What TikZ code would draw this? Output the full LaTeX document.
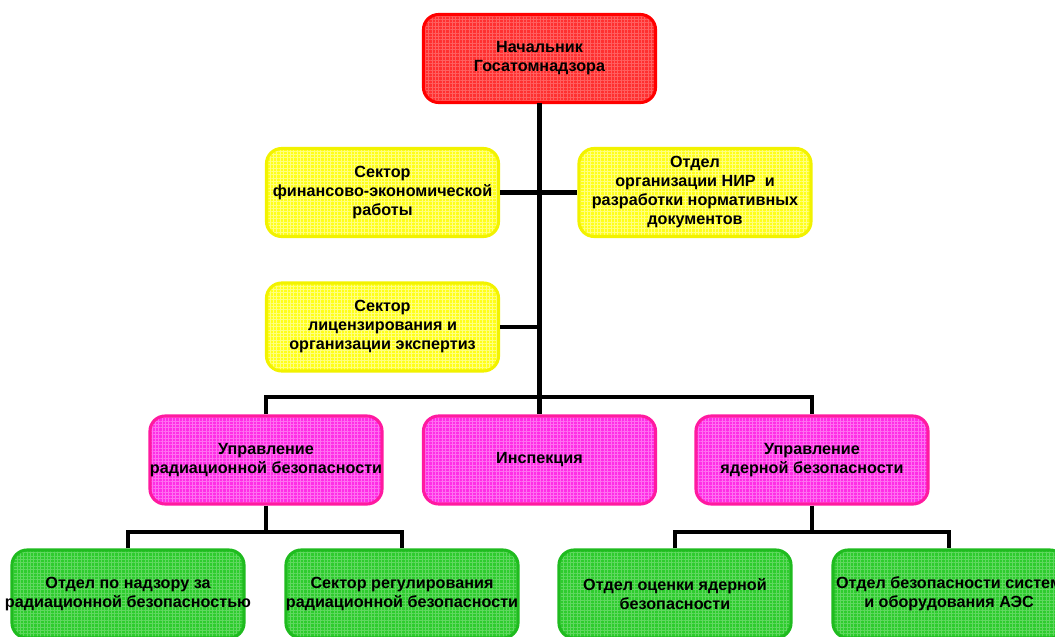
\documentclass[tikz,border=0pt]{standalone}
\usepackage{fontspec}
\setmainfont{Liberation Sans}
\usetikzlibrary{patterns.meta}

\definecolor{redfill}{HTML}{FF3030}
\definecolor{redgrid}{HTML}{FF6060}
\definecolor{redline}{HTML}{FF0000}
\definecolor{yelfill}{HTML}{FFFF1A}
\definecolor{yelgrid}{HTML}{FFFF80}
\definecolor{yelline}{HTML}{F2F200}
\definecolor{magfill}{HTML}{FF2EE6}
\definecolor{maggrid}{HTML}{FF70F0}
\definecolor{magline}{HTML}{FF1AA0}
\definecolor{grnfill}{HTML}{2ECC2E}
\definecolor{grngrid}{HTML}{60D860}
\definecolor{grnline}{HTML}{1FBB1F}

\tikzset{
  unit/.style n args={4}{draw=#2, line width=2.2pt, rounded corners=0.38cm,
    minimum width=5.8cm, minimum height=2.2cm,
    preaction={fill=#1},
    pattern={Hatch[angle=0,distance=2.4pt,line width=0.5pt]}, pattern color=#3,
    label={[align=center, font=\fontsize{11.5}{13.5}\selectfont\bfseries]center:#4}},
  chief/.style={unit={redfill}{redline}{redgrid}{#1}},
  staff/.style={unit={yelfill}{yelline}{yelgrid}{#1}},
  dept/.style={unit={magfill}{magline}{maggrid}{#1}},
  sect/.style={unit={grnfill}{grnline}{grngrid}{#1}},
  link/.style={line width=3.3pt}
}

\begin{document}
\begin{tikzpicture}[x=0.025cm, y=-0.025cm]
  \useasboundingbox (0,0) rectangle (1055,637);
  \fill[white] (0,0) rectangle (1055,637);
  \clip (0,0) rectangle (1055,637);

  % connectors
  \coordinate (bus) at (539,397);
  \coordinate (lbus) at (266,532);
  \coordinate (rbus) at (812,532);

  % boxes
  \node[chief={Начальник\\Госатомнадзора}] (top) at (539.5,58.5) {};
  \node[staff={Сектор\\финансово-экономической\\работы}] (fin) at (382.5,192.5) {};
  \node[staff={Отдел\\организации НИР~ и\\разработки нормативных\\документов}] (nir) at (695,192.5) {};
  \node[staff={Сектор\\лицензирования и\\организации экспертиз}] (lic) at (382.5,327) {};
  \node[dept={Управление\\радиационной безопасности}] (urb) at (266,460) {};
  \node[dept={Инспекция}] (insp) at (539.5,460) {};
  \node[dept={Управление\\ядерной безопасности}] (uyb) at (812,460) {};
  \node[sect={Отдел по надзору за\\радиационной безопасностью}] (ond) at (128,594) {};
  \node[sect={Сектор регулирования\\радиационной безопасности}] (srr) at (402,594) {};
  \node[sect={Отдел оценки ядерной\\безопасности}] (ooy) at (675,594) {};
  \node[sect={Отдел безопасности систем\\и оборудования АЭС}] (obs) at (949,594) {};

  \draw[link] (top.south) -- (insp.north);
  \draw[link] (fin.east) -- (nir.west);
  \draw[link] (lic.east) -- (lic.east -| top.south);
  \draw[link] (urb.north) |- (bus) -| (uyb.north);
  \draw[link] (urb.south) -- (lbus);
  \draw[link] (ond.north) |- (lbus) -| (srr.north);
  \draw[link] (uyb.south) -- (rbus);
  \draw[link] (ooy.north) |- (rbus) -| (obs.north);
\end{tikzpicture}
\end{document}
